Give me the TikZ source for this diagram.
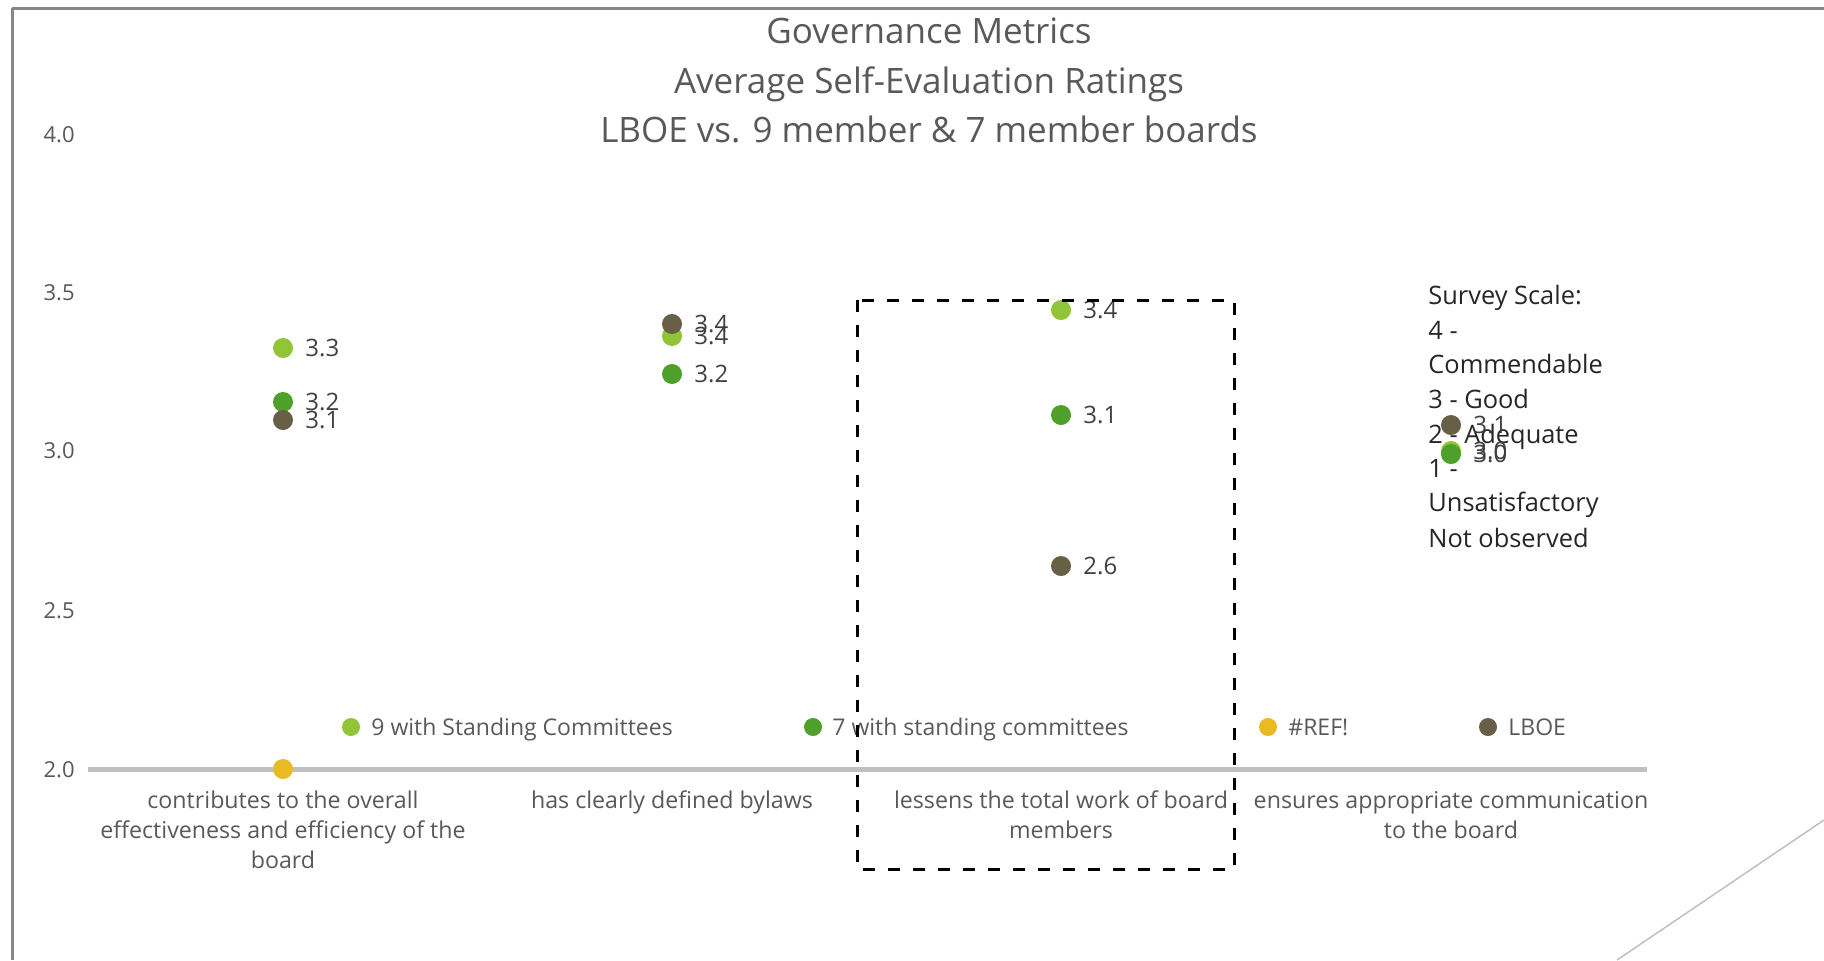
\documentclass[tikz,border=0pt]{standalone}
\usepackage{fontspec}
\setmainfont{Open Sans}
\definecolor{lg}{RGB}{146,196,56}
\definecolor{gr}{RGB}{78,160,42}
\definecolor{dk}{RGB}{104,96,70}
\definecolor{yl}{RGB}{234,186,34}
\definecolor{tx}{RGB}{89,89,89}
\definecolor{lb}{RGB}{64,64,64}
\definecolor{bord}{RGB}{135,135,135}
\definecolor{axisc}{RGB}{192,192,192}
\newcommand\datapt[5]{%
  \node[dot,fill=#4] (#1) at (#2,#3) {};
  \node[vlabel] (#1l) at (#2+22,#3) {#5};}
\begin{document}
\begin{tikzpicture}[x=0.5pt,y=-0.5pt,
  dot/.style={circle,inner sep=0pt,minimum size=10pt},
  ldot/.style={circle,inner sep=0pt,minimum size=9pt},
  vlabel/.style={anchor=west,inner sep=0pt,text=lb,font=\fontsize{12}{14}\selectfont},
  ttl/.style={anchor=base,inner sep=0pt,text=tx,font=\fontsize{17.5}{21}\selectfont},
  tick/.style={anchor=east,inner sep=0pt,text=tx,font=\fontsize{11}{13}\selectfont},
  cat/.style={anchor=base,inner sep=0pt,text=tx,font=\fontsize{11.6}{14}\selectfont},
  leg/.style={anchor=base west,inner sep=0pt,text=tx,font=\fontsize{11.5}{14}\selectfont},
  scl/.style={anchor=base west,inner sep=0pt,text=black!85,font=\fontsize{12.7}{15}\selectfont}]
\useasboundingbox[fill=white] (0,0) rectangle (1824,960);
% frame
\draw[bord,line width=1.5pt] (12,8) -- (1824,8);
\draw[bord,line width=1.5pt] (12,8) -- (12,960);
\draw[axisc,line width=0.75pt] (1824,820) -- (1617,960);
% title
\node[ttl] (t1) at (929,43) {Governance Metrics};
\node[ttl] (t2) at (929,93) {Average Self-Evaluation Ratings};
\node[ttl] (t3) at (929,142) {LBOE vs. 9 member \& 7 member boards};
% y ticks
\node[tick] (y40) at (75,135) {4.0};
\node[tick] (y35) at (75,293) {3.5};
\node[tick] (y30) at (75,451) {3.0};
\node[tick] (y25) at (75,611) {2.5};
\node[tick] (y20) at (75,770) {2.0};
% axis
\draw[axisc,line width=2.5pt] (88,769) -- (1647,769);
% category labels
\node[cat] (c1a) at (283,808) {contributes to the overall};
\node[cat] (c1b) at (283,838) {effectiveness and efficiency of the};
\node[cat] (c1c) at (283,868) {board};
\node[cat] (c2a) at (672,808) {has clearly defined bylaws};
\node[cat] (c3a) at (1061,808) {lessens the total work of board};
\node[cat] (c3b) at (1061,838) {members};
\node[cat] (c4a) at (1451,808) {ensures appropriate communication};
\node[cat] (c4b) at (1451,838) {to the board};
% survey scale
\node[scl] (s1) at (1428,304) {Survey Scale:};
\node[scl] (s2) at (1428,339) {4 -};
\node[scl] (s3) at (1428,373) {Commendable};
\node[scl] (s4) at (1428,408) {3 - Good};
\node[scl] (s5) at (1428,443) {2 - Adequate};
\node[scl] (s6) at (1428,477) {1 -};
\node[scl] (s7) at (1428,511) {Unsatisfactory};
\node[scl] (s8) at (1428,547) {Not observed};
% data: 9 with standing committees
\datapt{a1}{283}{348}{lg}{3.3}
\datapt{a2}{672}{336}{lg}{3.4}
\datapt{a3}{1061}{310}{lg}{3.4}
\datapt{a4}{1451}{451}{lg}{3.0}
% data: 7 with standing committees
\datapt{b1}{283}{402}{gr}{3.2}
\datapt{b2}{672}{374}{gr}{3.2}
\datapt{b3}{1061}{415}{gr}{3.1}
\datapt{b4}{1451}{454}{gr}{3.0}
% #REF!
\node[dot,fill=yl] (r1) at (283,769) {};
% LBOE
\datapt{d1}{283}{420}{dk}{3.1}
\datapt{d2}{672}{324}{dk}{3.4}
\datapt{d3}{1061}{566}{dk}{2.6}
\datapt{d4}{1451}{425}{dk}{3.1}
% legend
\node[ldot,fill=lg] (l1) at (351,727) {};
\node[leg] (l1t) at (371,735) {9 with Standing Committees};
\node[ldot,fill=gr] (l2) at (813,727) {};
\node[leg] (l2t) at (832,735) {7 with standing committees};
\node[ldot,fill=yl] (l3) at (1268,727) {};
\node[leg] (l3t) at (1288,735) {\#REF!};
\node[ldot,fill=dk] (l4) at (1488,727) {};
\node[leg] (l4t) at (1508,735) {LBOE};
% highlight box
\draw[black,line width=1.5pt,dash pattern=on 6pt off 6.5pt] (857,300) rectangle (1234,869);
\end{tikzpicture}
\end{document}
